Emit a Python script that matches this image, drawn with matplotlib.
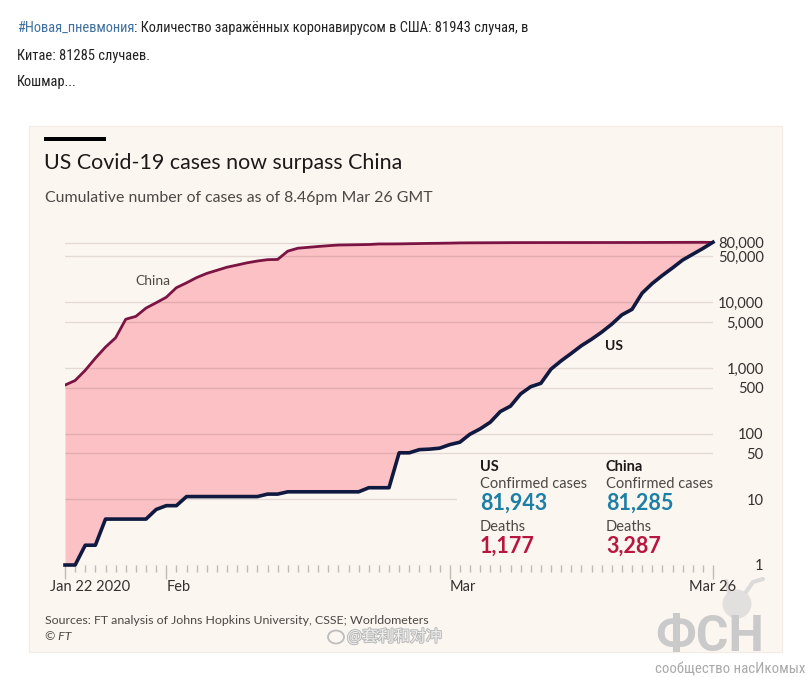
import matplotlib
matplotlib.use("Agg")
import matplotlib.pyplot as plt
import numpy as np
import matplotlib.patheffects as pe
from matplotlib.patches import Rectangle, Ellipse
from matplotlib.lines import Line2D
from matplotlib.ticker import MultipleLocator, NullLocator

W, H = 810, 677

# cumulative confirmed cases, one value per day from Jan 22 to Mar 26
china_cases = [548, 643, 920, 1406, 2075, 2877, 5509, 6087, 8141, 9802,
               11891, 16630, 19716, 23707, 27440, 30587, 34110, 36814, 39829, 42354,
               44386, 44759, 59895, 66358, 68413, 70513, 72434, 74211, 74619, 75077,
               75550, 77001, 77022, 77241, 77754, 78166, 78600, 78928, 79356, 79932,
               80136, 80261, 80386, 80537, 80690, 80770, 80823, 80860, 80887, 80921,
               80932, 80945, 80977, 81003, 81033, 81058, 81102, 81156, 81250, 81305,
               81435, 81498, 81591, 81661, 81285]
us_cases = [1, 1, 2, 2, 5, 5, 5, 5, 5, 7,
            8, 8, 11, 11, 11, 11, 11, 11, 11, 11,
            12, 12, 13, 13, 13, 13, 13, 13, 13, 13,
            15, 15, 15, 51, 51, 57, 58, 60, 68, 74,
            98, 118, 149, 217, 262, 402, 518, 583, 959, 1281,
            1663, 2179, 2727, 3499, 4632, 6421, 7783, 13747, 19273, 25600,
            33276, 43847, 53740, 65778, 81943]

x_tick_days = [0, 10, 38, 64]
x_tick_labels = ["Jan 22 2020", "Feb", "Mar", "Mar 26"]
y_ticks = [1, 10, 50, 100, 500, 1000, 5000, 10000, 50000, 80000]

stat_countries = ["US", "China"]
stat_confirmed = ["81,943", "81,285"]
stat_deaths = ["1,177", "3,287"]

post_tag = "#Новая_пневмония"
post_rest = ": Количество заражённых коронавирусом в США: 81943 случая, в"
post_lines = ["Китае: 81285 случаев.", "Кошмар..."]

RU_FONT = ["Roboto Condensed", "Liberation Sans Narrow", "Roboto", "DejaVu Sans"]
plt.rcParams["font.family"] = ["Lato", "DejaVu Sans"]

CREAM = "#fcf6f1"
INK = "#1c1a19"
GREY = "#4d4845"


def fx(x):
    return x / W


def fy(y):
    return 1 - y / H


fig = plt.figure(figsize=(W / 100, H / 100), dpi=100, facecolor="white")
renderer = fig.canvas.get_renderer()


def fit_size(text, target_px, family, weight="normal", start=12.0):
    t = fig.text(0, 0, text, fontsize=start, family=family, fontweight=weight)
    w = t.get_window_extent(renderer).width
    t.remove()
    return start * target_px / w


# ---- post text above the chart
ru_size = fit_size(post_tag + post_rest, 490, RU_FONT) * 1.05
tag = fig.text(fx(17), fy(28), post_tag, fontsize=ru_size, family=RU_FONT,
               color="#41719f", va="center")
fig.canvas.draw()
tag_end = tag.get_window_extent(renderer).x1
fig.text(tag_end / W, fy(28), post_rest, fontsize=ru_size, family=RU_FONT,
         color="#222222", va="center")
for i, line in enumerate(post_lines):
    fig.text(fx(17), fy(56 + 26 * i), line, fontsize=ru_size, family=RU_FONT,
             color="#222222", va="center")

# ---- cream chart card
fig.add_artist(Rectangle((fx(29), fy(652)), 753 / W, 526 / H, transform=fig.transFigure,
                         facecolor=CREAM, edgecolor="#f3ebe4", lw=0.8, zorder=-5))
fig.add_artist(Rectangle((fx(44), fy(141)), 62 / W, 4 / H, transform=fig.transFigure,
                         facecolor="black", lw=0, zorder=2))
fig.text(fx(44), fy(163), "US Covid-19 cases now surpass China", fontsize=15.4,
         color=INK, va="center")
fig.text(fx(45), fy(198), "Cumulative number of cases as of 8.46pm Mar 26 GMT",
         fontsize=11.4, color=GREY, va="center")

# faint bug-head watermark sits under the chart layer
fig.add_artist(Ellipse((fx(737), fy(604)), 29 / W, 29 / H, transform=fig.transFigure,
                       facecolor="#e2e0de", edgecolor="none", zorder=-1))
fig.add_artist(Line2D([fx(729), fx(726)], [fy(592), fy(581)], transform=fig.transFigure,
                      color="#dddbd9", lw=3, solid_capstyle="round", zorder=-1))
fig.add_artist(Line2D([fx(746), fx(753), fx(763)], [fy(592), fy(582), fy(579)],
                      transform=fig.transFigure, color="#dddbd9", lw=3,
                      solid_capstyle="round", zorder=-1))

# ---- main axes
ax = fig.add_axes([fx(65), fy(565), 648 / W, 325 / H])
ax.set_facecolor("none")
days = np.arange(len(china_cases))
ax.fill_between(days, us_cases, china_cases, color="#fbc1c4", lw=0, zorder=1)
ax.plot(days, china_cases, color="#7c1443", lw=2, zorder=4, solid_joinstyle="round")
ax.plot(days, us_cases, color="#101a40", lw=2.6, zorder=5, clip_on=False,
        solid_joinstyle="round")
ax.set_yscale("log")
ax.set_ylim(1, 88500)
ax.set_xlim(0, len(china_cases) - 1)
for s in ax.spines.values():
    s.set_visible(False)

for v in y_ticks[1:]:
    ax.axhline(v, color=(0.35, 0.22, 0.22, 0.15), lw=1, zorder=2)
ax.axhline(1, color="#ddd6cf", lw=0.8, zorder=0)

ax.yaxis.tick_right()
ax.set_yticks(y_ticks, labels=[f"{v:,}" for v in y_ticks])
ax.yaxis.set_minor_locator(NullLocator())
ax.tick_params(axis="y", length=0, pad=36.5, labelsize=10.5, labelcolor="#33302e")
for lbl in ax.get_yticklabels():
    lbl.set_horizontalalignment("right")

ax.set_xticks(x_tick_days)
ax.xaxis.set_minor_locator(MultipleLocator(1))
ax.tick_params(axis="x", which="major", length=10, width=1, color="#c2bbb5",
               labelbottom=False)
ax.tick_params(axis="x", which="minor", length=5, width=1, color="#c2bbb5")
label_shift = [-15, 0, 0, 0]
label_ha = ["left", "left", "left", "center"]
for d, lab, dx, ha in zip(x_tick_days, x_tick_labels, label_shift, label_ha):
    ax.annotate(lab, xy=(d, 0), xycoords=("data", "axes fraction"),
                xytext=(dx, -22), textcoords="offset pixels", ha=ha, va="center",
                fontsize=10.5, color="#33302e", annotation_clip=False)

# series labels
fig.text(fx(153), fy(281), "China", fontsize=10, color=GREY, ha="center", va="center")
fig.text(fx(614), fy(346), "US", fontsize=10, fontweight="bold", color=INK,
         ha="center", va="center")

# ---- stats panel
ax.add_patch(Rectangle((fx(457), fy(560)), 256 / W, 102 / H, transform=fig.transFigure,
                       facecolor=CREAM, lw=0, zorder=3, clip_on=False))
for col_x, name, conf, dead in zip([480, 606], stat_countries, stat_confirmed, stat_deaths):
    fig.text(fx(col_x), fy(467), name, fontsize=10.5, fontweight="bold", color=INK, va="center")
    fig.text(fx(col_x), fy(484), "Confirmed cases", fontsize=10.5, color=GREY, va="center")
    fig.text(fx(col_x), fy(503), conf, fontsize=15.5, fontweight="bold",
             color="#1b7fa6", va="center")
    fig.text(fx(col_x), fy(527), "Deaths", fontsize=10.5, color=GREY, va="center")
    fig.text(fx(col_x), fy(546), dead, fontsize=15.5, fontweight="bold",
             color="#b7173e", va="center")

# ---- footer
fig.text(fx(45), fy(620), "Sources: FT analysis of Johns Hopkins University, CSSE; Worldometers",
         fontsize=8.9, color=GREY, va="center")
fig.text(fx(45), fy(637), "© FT", fontsize=8.9, style="italic", color=GREY, va="center")

# ---- watermarks
fig.add_artist(Ellipse((fx(336), fy(637)), 16 / W, 13 / H, transform=fig.transFigure,
                       facecolor="none", edgecolor="#bdbdbd", lw=1.3, zorder=6))
fig.text(fx(347), fy(637), "@套利和对冲", fontsize=11.5,
         family=["Noto Sans CJK SC", "DejaVu Sans"], color="#eeeeee", va="center",
         path_effects=[pe.withStroke(linewidth=1.4, foreground="#b9b9b9")], zorder=6)

fig.text(fx(655), fy(651), "ФСН", fontsize=36, fontweight="bold",
         family=["Roboto", "DejaVu Sans"], color="#cacaca", va="baseline", zorder=6)
sub_size = fit_size("сообщество насИкомых", 150, RU_FONT)
fig.text(fx(655), fy(669), "сообщество насИкомых", fontsize=sub_size, family=RU_FONT,
         color="#a9a9a9", va="center", zorder=6)

fig.savefig("out.png", dpi=100, facecolor="white")
